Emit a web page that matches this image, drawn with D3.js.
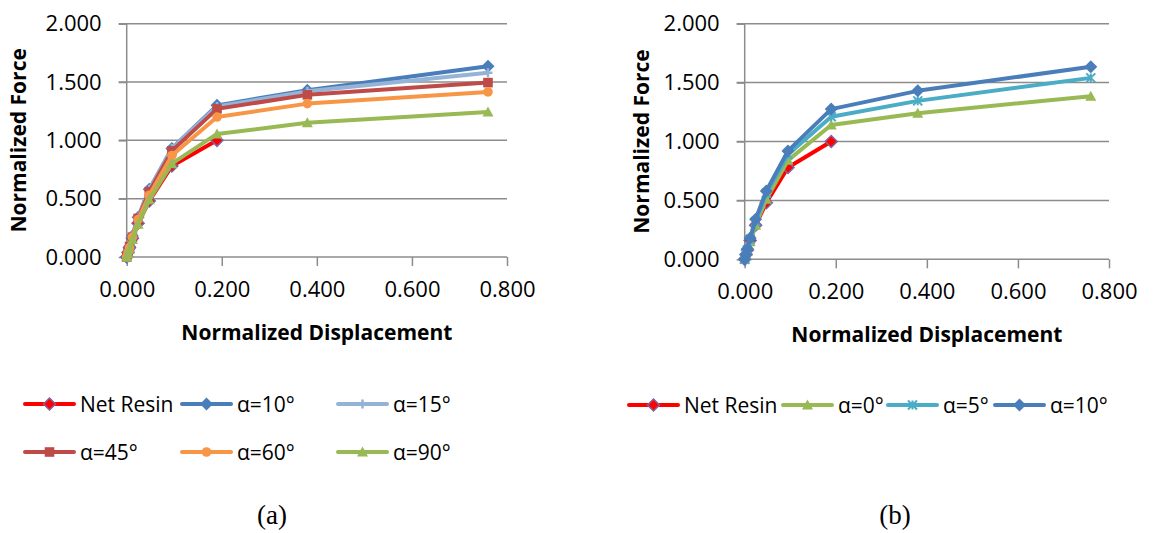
<!DOCTYPE html>
<html>
<head>
<meta charset="utf-8">
<script src="https://cdn.jsdelivr.net/npm/d3@7"></script>
<style>
  body { margin: 0; background: #fff; }
  svg { display: block; font-family: 'Open Sans', sans-serif; }
</style>
</head>
<body>
<svg id="chart" width="1173" height="533"></svg>
<script>
// normalized displacement steps (shared by all series)
const disp = [0, 0.003, 0.006, 0.012, 0.024, 0.0475, 0.095, 0.19, 0.38, 0.76]

// chart (a)
const netResin   = [0, 0.04, 0.08, 0.16, 0.29, 0.48, 0.78, 1.00]
const a_alpha10  = [0, 0.04, 0.09, 0.18, 0.34, 0.58, 0.93, 1.30, 1.43, 1.635]
const a_alpha15  = [0, 0.04, 0.09, 0.18, 0.34, 0.58, 0.93, 1.29, 1.42, 1.58]
const a_alpha45  = [0, 0.04, 0.09, 0.17, 0.33, 0.56, 0.91, 1.27, 1.39, 1.495]
const a_alpha60  = [0, 0.04, 0.08, 0.17, 0.32, 0.53, 0.87, 1.20, 1.315, 1.415]
const a_alpha90  = [0, 0.03, 0.07, 0.15, 0.28, 0.49, 0.80, 1.055, 1.15, 1.243]

// chart (b)
const b_alpha0   = [0, 0.03, 0.07, 0.15, 0.29, 0.51, 0.84, 1.14, 1.24, 1.385]
const b_alpha5   = [0, 0.04, 0.08, 0.17, 0.32, 0.56, 0.89, 1.21, 1.345, 1.54]
const b_alpha10  = [0, 0.04, 0.09, 0.18, 0.34, 0.58, 0.92, 1.275, 1.43, 1.635]

const xTicks = [0, 0.2, 0.4, 0.6, 0.8]
const yTicks = [0, 0.5, 1.0, 1.5, 2.0]

const svg = d3.select('#chart')
const gridColor = '#8c8c8c'

// marker drawing for each series style
function marker(g, type, color, x, y) {
    const t = `translate(${x},${y})`
    if (type === 'diamond-red') {
        g.append('path').attr('d', 'M0,-6L6,0L0,6L-6,0Z').attr('transform', t)
            .attr('fill', '#ff0000').attr('stroke', '#8064a2').attr('stroke-width', 1.5)
    } else if (type === 'diamond') {
        g.append('path').attr('d', 'M0,-6.5L6.5,0L0,6.5L-6.5,0Z').attr('transform', t).attr('fill', color)
    } else if (type === 'square') {
        g.append('path').attr('d', 'M-4.8,-4.8H4.8V4.8H-4.8Z').attr('transform', t).attr('fill', color)
    } else if (type === 'circle') {
        g.append('circle').attr('cx', x).attr('cy', y).attr('r', 4.8).attr('fill', color)
    } else if (type === 'triangle') {
        g.append('path').attr('d', 'M0,-5.5L5.5,4.5H-5.5Z').attr('transform', t).attr('fill', color)
    } else if (type === 'plus') {
        const r = 4.5
        g.append('path').attr('d', `M${-r},0H${r}M0,${-r}V${r}`).attr('transform', t)
            .attr('stroke', color).attr('stroke-width', 2.5).attr('fill', 'none')
    } else if (type === 'star') {
        const r = 4.5
        g.append('path').attr('d', `M${-r},${-r}L${r},${r}M${-r},${r}L${r},${-r}M0,${-r}V${r}`)
            .attr('transform', t)
            .attr('stroke', color).attr('stroke-width', 2).attr('fill', 'none')
    }
}

function drawChart(cfg) {
    const x = d3.scaleLinear().domain([0, 0.8]).range([cfg.left, cfg.right])
    const y = d3.scaleLinear().domain([0, 2]).range([cfg.bottom, cfg.top])
    const g = svg.append('g')

    // horizontal gridlines
    g.append('g').selectAll('line').data(yTicks.filter(d => d > 0)).enter()
        .append('line')
        .attr('x1', cfg.left - 8).attr('x2', cfg.right)
        .attr('y1', d => y(d)).attr('y2', d => y(d))
        .attr('stroke', gridColor).attr('stroke-width', 1.5)

    // axes
    const yAxis = g.append('g').attr('transform', `translate(${cfg.left},0)`)
        .call(d3.axisLeft(y).tickValues(yTicks).tickSize(8).tickPadding(17).tickFormat(d3.format('.3f')))
    const xAxis = g.append('g').attr('transform', `translate(0,${cfg.bottom})`)
        .call(d3.axisBottom(x).tickValues(xTicks).tickSize(9).tickPadding(15).tickFormat(d3.format('.3f')))
    ;[xAxis, yAxis].forEach(a => {
        a.select('.domain').attr('stroke', gridColor).attr('stroke-width', 1.5)
        a.selectAll('.tick line').attr('stroke', gridColor).attr('stroke-width', 1.5)
        a.selectAll('.tick text').attr('font-size', 22).attr('fill', '#000')
            .attr('font-family', "'Open Sans', sans-serif")
    })
    xAxis.select('.domain').attr('d', `M${cfg.left},0H${cfg.right}`)
    yAxis.select('.domain').attr('d', `M0,${cfg.top}V${cfg.bottom}`)

    // axis titles
    g.append('text').attr('x', (cfg.left + cfg.right) / 2).attr('y', cfg.bottom + 83)
        .attr('text-anchor', 'middle').attr('font-weight', 'bold').attr('font-size', 21)
        .text('Normalized Displacement')
    g.append('text')
        .attr('transform', `translate(${cfg.yTitleX},${(cfg.top + cfg.bottom) / 2}) rotate(-90)`)
        .attr('text-anchor', 'middle').attr('font-weight', 'bold').attr('font-size', 21)
        .text('Normalized Force')

    // series
    const line = d3.line().x(d => x(d[0])).y(d => y(d[1]))
    cfg.series.forEach(s => {
        const pts = s.values.map((v, i) => [disp[i], v])
        g.append('path').datum(pts).attr('d', line)
            .attr('fill', 'none').attr('stroke', s.color).attr('stroke-width', 4)
            .attr('stroke-linejoin', 'round')
        const mg = g.append('g')
        pts.forEach(p => marker(mg, s.marker, s.color, x(p[0]), y(p[1])))
    })

    // legend
    cfg.series.forEach((s, i) => {
        const pos = cfg.legend[i]
        const lg = g.append('g')
        lg.append('line').attr('x1', pos[0]).attr('x2', pos[0] + 49)
            .attr('y1', pos[1]).attr('y2', pos[1])
            .attr('stroke', s.color).attr('stroke-width', 4).attr('stroke-linecap', 'round')
        marker(lg, s.marker, s.color, pos[0] + 24.5, pos[1])
        lg.append('text').attr('x', pos[0] + 55).attr('y', pos[1] + 7.5)
            .attr('font-size', 21).text(s.name)
    })

    // caption
    g.append('text').attr('x', cfg.captionX).attr('y', 524).attr('text-anchor', 'middle')
        .attr('font-family', "'Liberation Serif', serif").attr('font-size', 27).text(cfg.caption)
}

drawChart({
    left: 126.7, right: 507, top: 23.7, bottom: 257,
    yTitleX: 26, captionX: 272, caption: '(a)',
    series: [
        { name: 'Net Resin', values: netResin,  color: '#ff0000', marker: 'diamond-red' },
        { name: 'α=10°',     values: a_alpha10, color: '#4a7ebb', marker: 'diamond' },
        { name: 'α=15°',     values: a_alpha15, color: '#95b3d7', marker: 'plus' },
        { name: 'α=45°',     values: a_alpha45, color: '#be4b48', marker: 'square' },
        { name: 'α=60°',     values: a_alpha60, color: '#f79646', marker: 'circle' },
        { name: 'α=90°',     values: a_alpha90, color: '#98b954', marker: 'triangle' }
    ],
    legend: [[25, 404], [182, 404], [338, 404], [25, 452], [182, 452], [338, 452]]
})

drawChart({
    left: 744.7, right: 1109, top: 23.7, bottom: 259.3,
    yTitleX: 649, captionX: 895, caption: '(b)',
    series: [
        { name: 'Net Resin', values: netResin,  color: '#ff0000', marker: 'diamond-red' },
        { name: 'α=0°',      values: b_alpha0,  color: '#98b954', marker: 'triangle' },
        { name: 'α=5°',      values: b_alpha5,  color: '#4bacc6', marker: 'star' },
        { name: 'α=10°',     values: b_alpha10, color: '#4a7ebb', marker: 'diamond' }
    ],
    legend: [[629, 405], [783, 405], [888, 405], [995, 405]]
})
</script>
</body>
</html>
